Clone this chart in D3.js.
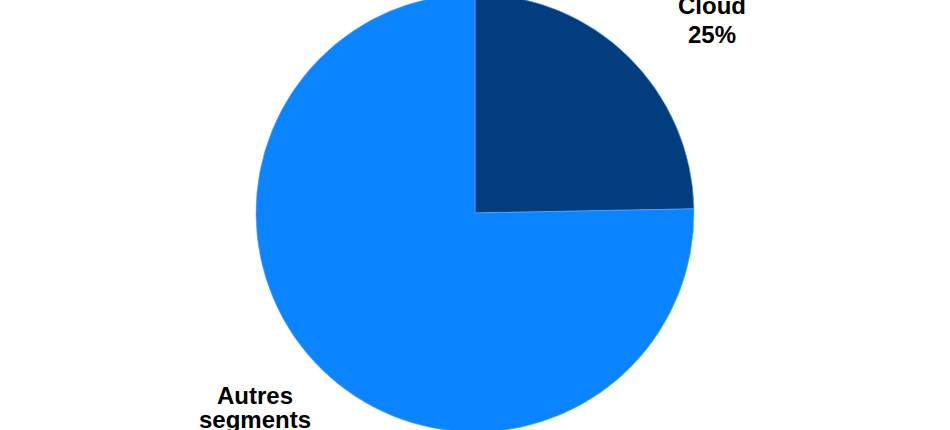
<!DOCTYPE html>
<html>
<head>
<meta charset="utf-8">
<script src="https://cdn.jsdelivr.net/npm/d3@7"></script>
<style>
  body { margin: 0; background: #fff; }
  svg { display: block; }
</style>
</head>
<body>
<div id="chart"></div>
<script>
// data
var segments = ['Cloud', 'Autres segments'];
var shares = [24.7, 75.3];
var shareLabels = ['25%', '75%'];

var width = 950, height = 430;
var cx = 475, cy = 213, radius = 219;

var colors = d3.scaleOrdinal()
    .domain(segments)
    .range(['#023e7d', '#0a84ff']);

// label placement (block anchor, line height) per slice
var labelPos = [
    { x: 712, y: 14, lh: 29, lines: ['Cloud'] },
    { x: 255, y: 404, lh: 24, lines: ['Autres', 'segments'] }
];

var svg = d3.select('#chart')
    .append('svg')
    .attr('width', width)
    .attr('height', height);

var pie = d3.pie().sort(null).value(function(d) { return d.value; });
var arc = d3.arc().innerRadius(0).outerRadius(radius);

var rows = segments.map(function(s, i) {
    return { name: s, value: shares[i], label: shareLabels[i] };
});

var g = svg.append('g')
    .attr('transform', `translate(${cx}, ${cy})`);

g.selectAll('path')
    .data(pie(rows))
    .enter()
    .append('path')
    .attr('d', arc)
    .attr('fill', function(d) { return colors(d.data.name); })
    .attr('stroke', '#5aa8ff')
    .attr('stroke-width', 0.6);

// labels
rows.forEach(function(r, i) {
    var p = labelPos[i];
    var t = svg.append('text')
        .attr('text-anchor', 'middle')
        .style('font-family', '"Liberation Sans", Arial, sans-serif')
        .style('font-size', '24px')
        .style('font-weight', 'bold')
        .style('fill', '#000');
    var lines = p.lines.concat([r.label]);
    lines.forEach(function(line, k) {
        t.append('tspan')
            .attr('x', p.x)
            .attr('y', p.y + k * p.lh)
            .text(line);
    });
});
</script>
</body>
</html>
